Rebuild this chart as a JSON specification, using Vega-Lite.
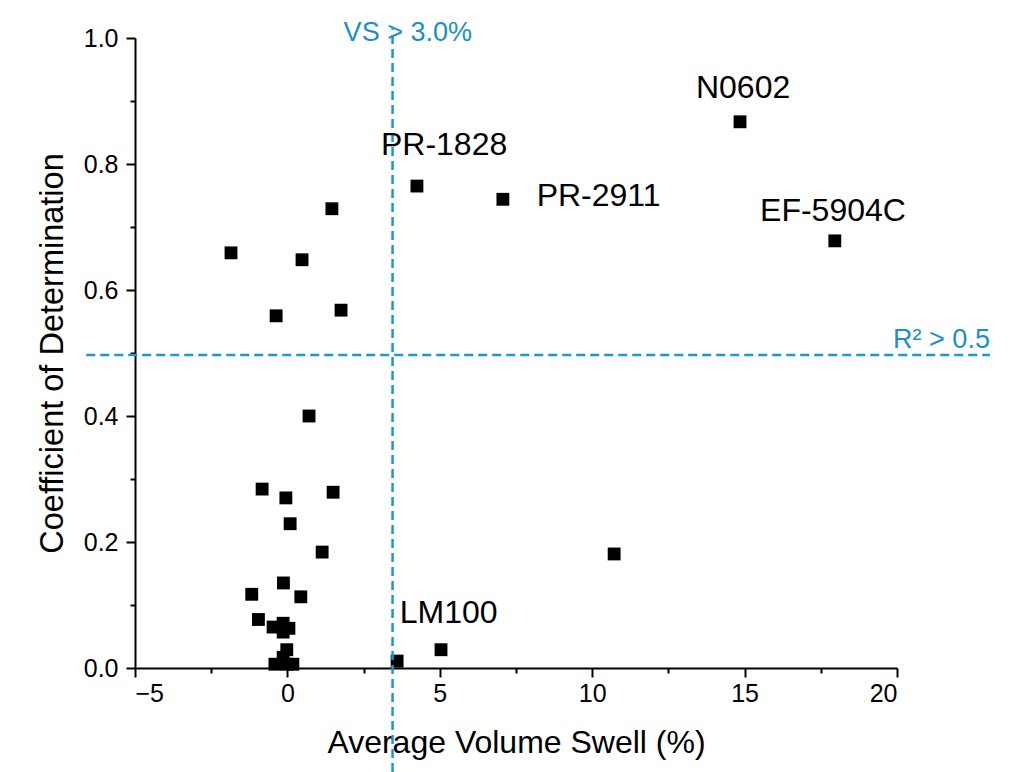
{
  "$schema": "https://vega.github.io/schema/vega-lite/v6.json",
  "width": 762,
  "height": 630,
  "autosize": "none",
  "padding": {"left": 135, "top": 38, "right": 116, "bottom": 104},
  "background": "white",
  "config": {
    "view": {"stroke": null},
    "axis": {
      "domainColor": "black", "domainWidth": 2, "tickColor": "black", "tickWidth": 2,
      "labelColor": "black", "titleColor": "black", "grid": false,
      "labelFont": "Liberation Sans", "titleFont": "Liberation Sans",
      "titleFontWeight": "normal"
    }
  },
  "datasets": {
    "pts": [
      {"vs": 14.85, "r2": 0.867}, {"vs": 17.96, "r2": 0.678}, {"vs": 4.25, "r2": 0.765},
      {"vs": 7.07, "r2": 0.744}, {"vs": 10.72, "r2": 0.181}, {"vs": 3.6, "r2": 0.011},
      {"vs": 5.04, "r2": 0.029}, {"vs": 1.46, "r2": 0.729}, {"vs": -1.85, "r2": 0.659},
      {"vs": 0.48, "r2": 0.648}, {"vs": -0.37, "r2": 0.559}, {"vs": 1.76, "r2": 0.568},
      {"vs": 0.71, "r2": 0.4}, {"vs": -0.83, "r2": 0.284}, {"vs": -0.05, "r2": 0.27},
      {"vs": 1.5, "r2": 0.279}, {"vs": 0.09, "r2": 0.229}, {"vs": 1.14, "r2": 0.184},
      {"vs": -0.13, "r2": 0.135}, {"vs": -1.17, "r2": 0.117}, {"vs": 0.44, "r2": 0.113},
      {"vs": -0.95, "r2": 0.077}, {"vs": -0.47, "r2": 0.065}, {"vs": -0.14, "r2": 0.071},
      {"vs": 0.05, "r2": 0.063}, {"vs": -0.14, "r2": 0.057}, {"vs": -0.02, "r2": 0.029},
      {"vs": -0.14, "r2": 0.017}, {"vs": -0.41, "r2": 0.006}, {"vs": 0.18, "r2": 0.006},
      {"vs": -0.01, "r2": 0.006}
    ],
    "vline": [{"vs": 3.45, "r2": -0.165, "r2end": 1.015}],
    "hline": [{"vs": -6.6, "vsend": 23.05, "r2": 0.497}],
    "names": [
      {"vs": 14.95, "r2": 0.921, "label": "N0602"},
      {"vs": 5.14, "r2": 0.83, "label": "PR-1828"},
      {"vs": 10.21, "r2": 0.749, "label": "PR-2911"},
      {"vs": 17.9, "r2": 0.725, "label": "EF-5904C"},
      {"vs": 5.29, "r2": 0.087, "label": "LM100"}
    ],
    "refs": [
      {"vs": 3.95, "r2": 1.008, "label": "VS > 3.0%"},
      {"vs": 21.46, "r2": 0.521, "label": "R² > 0.5"}
    ]
  },
  "layer": [
    {
      "data": {"name": "pts"},
      "mark": {"type": "point", "shape": "square", "filled": true, "color": "black", "opacity": 1, "size": 165},
      "encoding": {
        "x": {
          "field": "vs", "type": "quantitative",
          "scale": {"domain": [-5, 20], "nice": false, "zero": false},
          "axis": {
            "title": "Average Volume Swell (%)",
            "values": [-5, -2.5, 0, 2.5, 5, 7.5, 10, 12.5, 15, 17.5, 20],
            "format": "d",
            "labelExpr": "datum.value % 5 == 0 ? datum.label : ''",
            "tickSize": {"condition": {"test": "datum.value % 5 != 0", "value": 5}, "value": 9},
            "labelFontSize": 25, "labelPadding": 4,
            "titleFontSize": 32, "titlePadding": 21
          }
        },
        "y": {
          "field": "r2", "type": "quantitative",
          "scale": {"domain": [0, 1], "nice": false},
          "axis": {
            "title": "Coefficient of Determination",
            "values": [0, 0.1, 0.2, 0.3, 0.4, 0.5, 0.6, 0.7, 0.8, 0.9, 1.0],
            "format": ".1f",
            "labelExpr": "round(datum.value * 10) % 2 == 0 ? datum.label : ''",
            "tickSize": {"condition": {"test": "round(datum.value * 10) % 2 == 1", "value": 5}, "value": 9},
            "labelFontSize": 25, "labelPadding": 8,
            "titleFontSize": 32.5, "titlePadding": 14
          }
        }
      }
    },
    {
      "data": {"name": "vline"},
      "mark": {"type": "rule", "color": "#1b98d0", "strokeWidth": 2.5, "strokeDash": [9, 5]},
      "encoding": {
        "x": {"field": "vs", "type": "quantitative"},
        "y": {"field": "r2", "type": "quantitative"},
        "y2": {"field": "r2end"}
      }
    },
    {
      "data": {"name": "hline"},
      "mark": {"type": "rule", "color": "#1b98d0", "strokeWidth": 2.5, "strokeDash": [9, 5]},
      "encoding": {
        "x": {"field": "vs", "type": "quantitative"},
        "x2": {"field": "vsend"},
        "y": {"field": "r2", "type": "quantitative"}
      }
    },
    {
      "data": {"name": "names"},
      "mark": {"type": "text", "font": "Liberation Sans", "fontSize": 32, "color": "black", "baseline": "middle", "align": "center"},
      "encoding": {
        "x": {"field": "vs", "type": "quantitative"},
        "y": {"field": "r2", "type": "quantitative"},
        "text": {"field": "label"}
      }
    },
    {
      "data": {"name": "refs"},
      "mark": {"type": "text", "font": "Liberation Sans", "fontSize": 27, "color": "#1b8fc6", "baseline": "middle", "align": "center"},
      "encoding": {
        "x": {"field": "vs", "type": "quantitative"},
        "y": {"field": "r2", "type": "quantitative"},
        "text": {"field": "label"}
      }
    }
  ]
}
